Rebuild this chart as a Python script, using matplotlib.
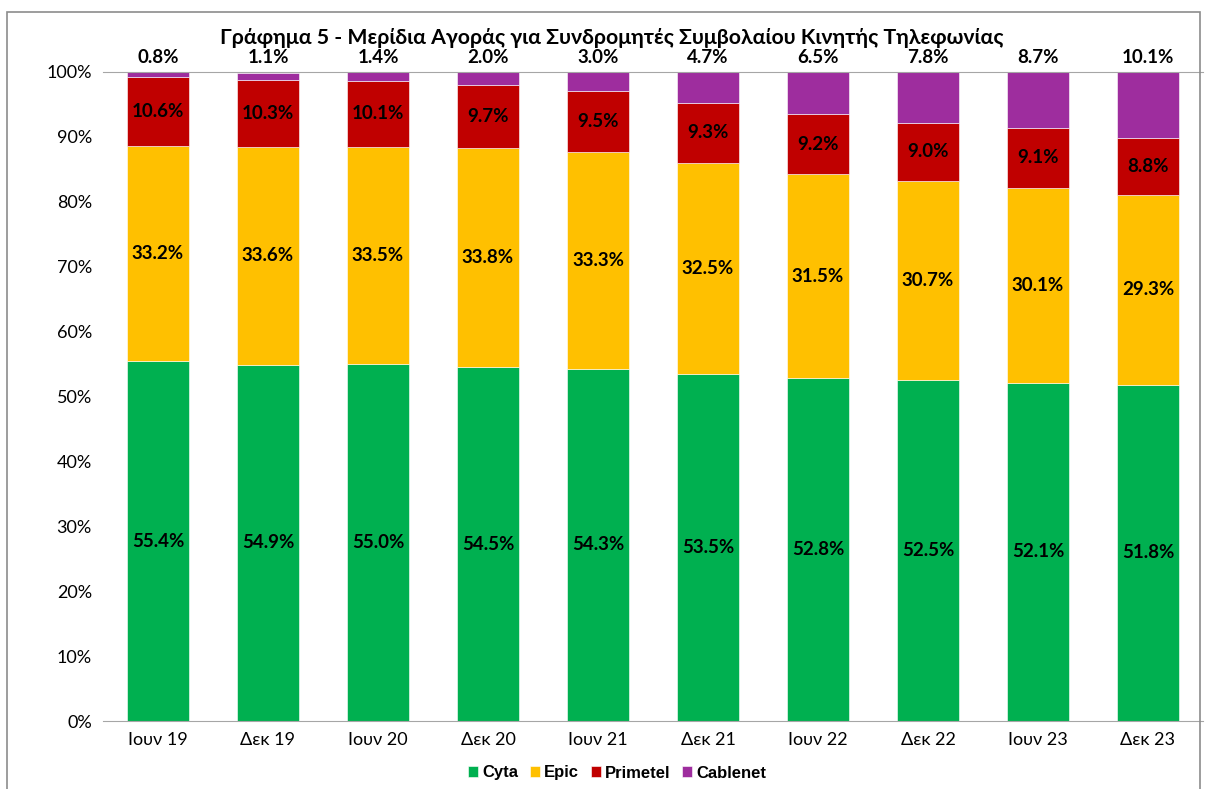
import matplotlib.pyplot as plt
import numpy as np
from matplotlib.patches import Rectangle

periods = ["Ιουν 19", "Δεκ 19", "Ιουν 20", "Δεκ 20", "Ιουν 21",
           "Δεκ 21", "Ιουν 22", "Δεκ 22", "Ιουν 23", "Δεκ 23"]
cyta = [55.4, 54.9, 55.0, 54.5, 54.3, 53.5, 52.8, 52.5, 52.1, 51.8]
epic = [33.2, 33.6, 33.5, 33.8, 33.3, 32.5, 31.5, 30.7, 30.1, 29.3]
primetel = [10.6, 10.3, 10.1, 9.7, 9.5, 9.3, 9.2, 9.0, 9.1, 8.8]
cablenet = [0.8, 1.1, 1.4, 2.0, 3.0, 4.7, 6.5, 7.8, 8.7, 10.1]

names = ["Cyta", "Epic", "Primetel", "Cablenet"]
colors = ["#00b050", "#ffc000", "#c00000", "#9e2d9e"]

plt.rcParams['font.family'] = ['Lato', 'DejaVu Sans']

W, H = 1205, 789
fig = plt.figure(figsize=(W / 100, H / 100), dpi=100)
fig.patches.append(Rectangle((7 / W, -0.01), 1193 / W, 1 - 12 / H + 0.01,
                             transform=fig.transFigure, fill=False,
                             edgecolor="#8c8c8c", linewidth=1.2))

ax = fig.add_axes([103 / W, 1 - 721 / H, 1100 / W, 649 / H])
x = np.arange(len(periods))
bottom = np.zeros(len(periods))
series = [cyta, epic, primetel, cablenet]
for vals, name, col in zip(series, names, colors):
    vals = np.array(vals)
    ax.bar(x, vals, 0.57, bottom=bottom, color=col, label=name,
           edgecolor="white", linewidth=0.4)
    if name != "Cablenet":
        for xi, b, v in zip(x, bottom, vals):
            ax.text(xi, b + v / 2, f"{v:.1f}%", ha="center", va="center",
                    fontsize=13.5, fontweight="bold", color="black")
    else:
        for xi, v in zip(x, vals):
            ax.text(xi, 101.0, f"{v:.1f}%", ha="center", va="bottom",
                    fontsize=13.5, fontweight="bold", color="black")
    bottom += vals

ax.set_xlim(-0.5, len(periods) - 0.5)
ax.set_ylim(0, 100)
ax.set_yticks(np.arange(0, 101, 10))
ax.set_yticklabels([f"{v}%" for v in range(0, 101, 10)], fontsize=13)
ax.set_xticks(x)
ax.set_xticklabels(periods, fontsize=13)
ax.tick_params(axis="both", length=0, pad=8)
for s in ["left", "right"]:
    ax.spines[s].set_visible(False)
ax.spines["top"].set_color("#a6a6a6")
ax.spines["bottom"].set_color("#a6a6a6")

fig.text(612 / W, 1 - 38 / H, "Γράφημα 5 - Μερίδια Αγοράς για Συνδρομητές Συμβολαίου Κινητής Τηλεφωνίας",
         ha="center", va="center", fontsize=15.3, fontweight="bold")

fig.legend(loc="center", bbox_to_anchor=(617 / W, 1 - 773 / H), ncol=4,
           frameon=False, handlelength=0.6, handleheight=0.6,
           handletextpad=0.25, columnspacing=0.7,
           prop={"family": "Liberation Sans", "weight": "bold", "size": 12})

fig.savefig("out.png", dpi=100)
